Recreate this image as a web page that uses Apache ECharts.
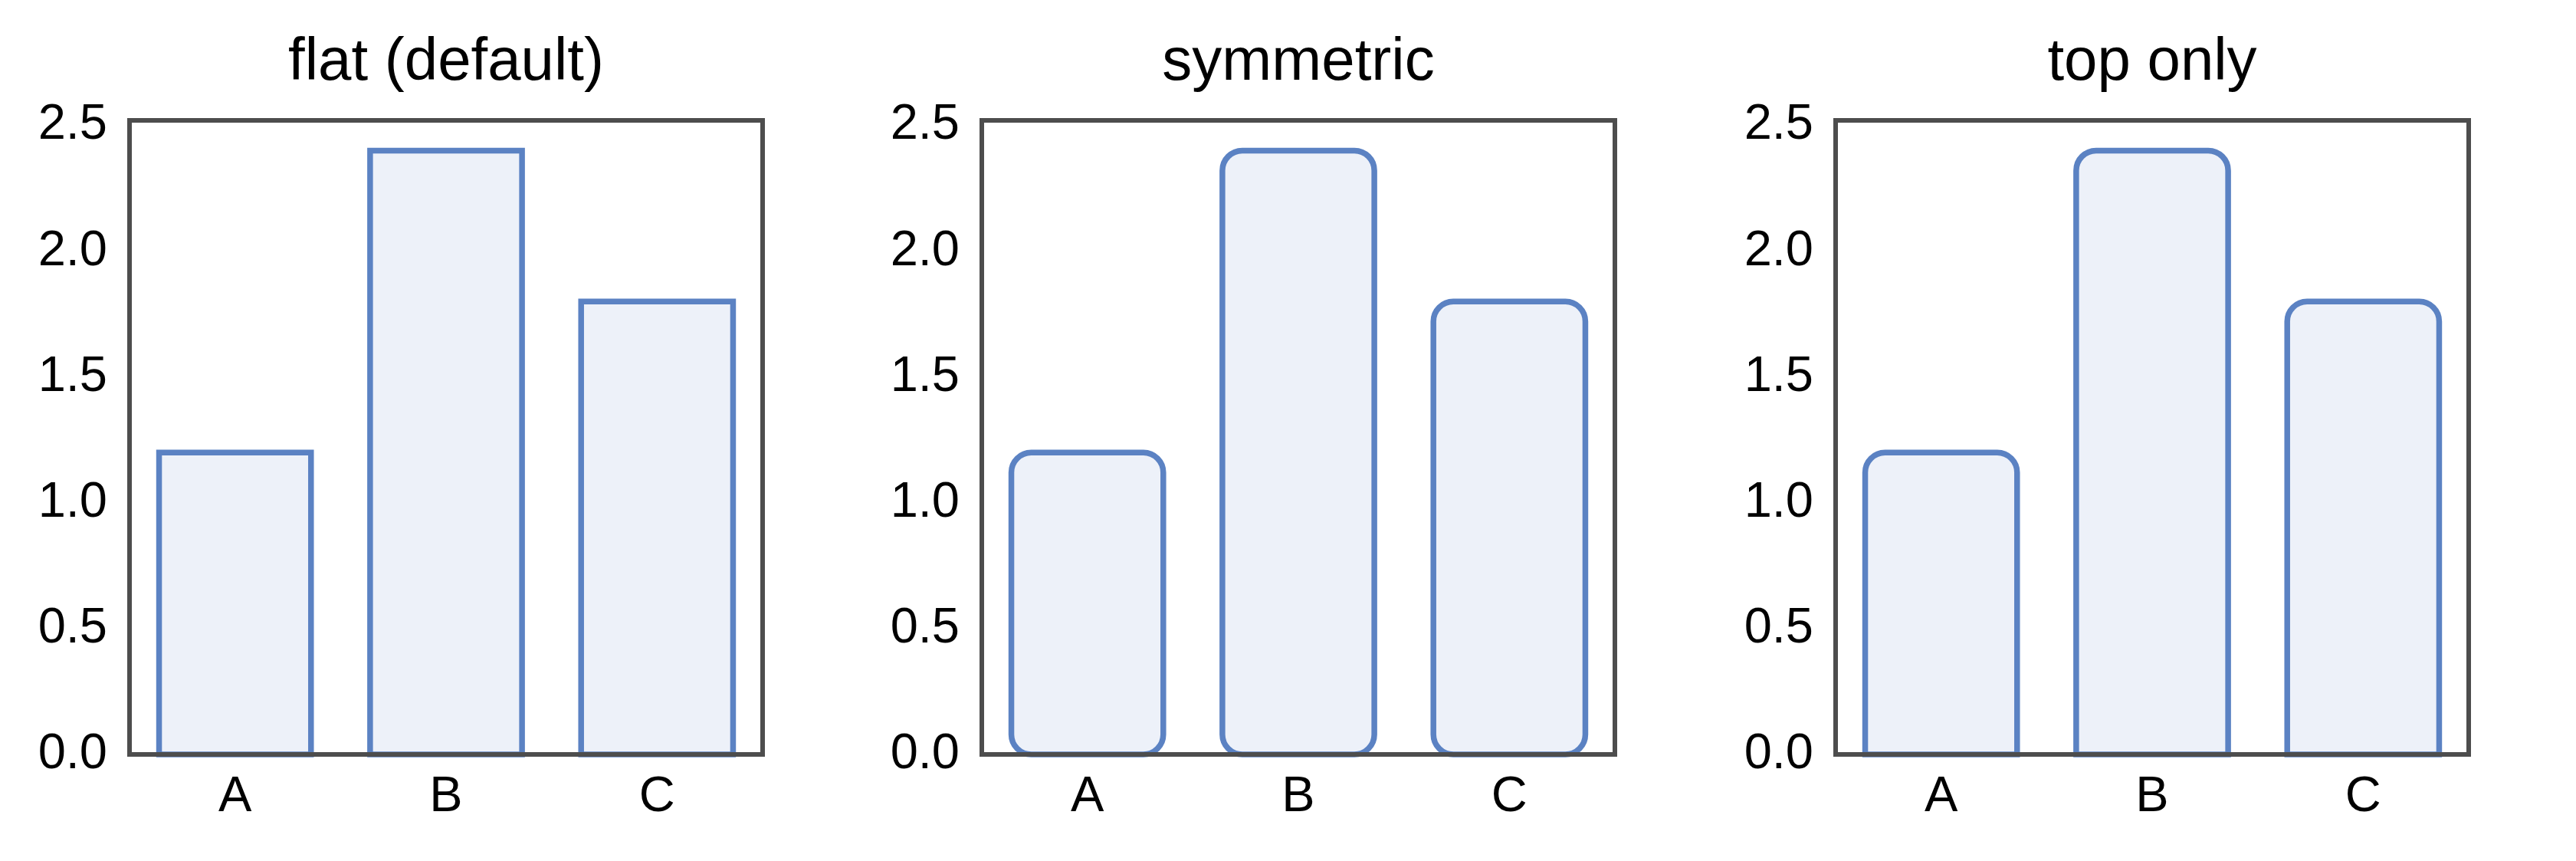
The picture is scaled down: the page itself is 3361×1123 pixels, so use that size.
<!DOCTYPE html>
<html>
<head>
<meta charset="utf-8">
<script src="https://cdn.jsdelivr.net/npm/echarts@6/dist/echarts.min.js"></script>
<style>
  html, body { margin: 0; padding: 0; background: #ffffff; }
  #chart { width: 3361px; height: 1123px; }
</style>
</head>
<body>
<div id="chart"></div>
<script>
// ---- data ----
const categories = ['A', 'B', 'C'];
const values = [1.2, 2.4, 1.8];
const panelTitles = ['flat (default)', 'symmetric', 'top only'];
const yTickLabels = ['0.0', '0.5', '1.0', '1.5', '2.0', '2.5'];
const yMax = 2.52;

// ---- styles / layout ----
const FONT = 'Arial, "Liberation Sans", Helvetica, sans-serif';
const panelLeft = [169, 1281, 2395];
const panelWidth = 826;
const panelTop = 157;
const panelHeight = 827;
const R = 26;
const radii = [0, [R, R, R, R], [R, R, 0, 0]];
const barFraction = 0.72;
const strokeColor = '#5b82c3';
const fillColor = '#edf1f9';
const spineColor = '#4d4d4d';

const chart = echarts.init(document.getElementById('chart'), null, { renderer: 'canvas' });

function makeRenderItem(radius) {
  return function (params, api) {
    const idx = api.value(0);
    const val = api.value(1);
    const base = api.coord([idx, 0]);
    const top = api.coord([idx, val]);
    const band = api.size([1, 0])[0];
    const w = band * barFraction;
    return {
      type: 'rect',
      shape: { x: base[0] - w / 2, y: top[1], width: w, height: base[1] - top[1], r: radius },
      style: { fill: fillColor, stroke: strokeColor, lineWidth: 7.5 }
    };
  };
}

const grids = [], xAxes = [], yAxes = [], series = [], titles = [];
panelTitles.forEach((t, i) => {
  grids.push({
    left: panelLeft[i], top: panelTop, width: panelWidth, height: panelHeight,
    show: true, borderColor: spineColor, borderWidth: 6,
    backgroundColor: 'transparent', z: 5
  });
  titles.push({
    text: t, left: panelLeft[i] + panelWidth / 2, top: 43, textAlign: 'center', padding: 0,
    textStyle: { fontFamily: FONT, fontSize: 78, fontWeight: 'normal', color: '#000000' }
  });
  xAxes.push({
    type: 'category', gridIndex: i, data: categories, boundaryGap: true,
    axisLine: { show: false }, axisTick: { show: false }, splitLine: { show: false },
    axisLabel: { fontFamily: FONT, fontSize: 65, color: '#000000', margin: 24 }
  });
  yAxes.push({
    type: 'value', gridIndex: i, min: 0, max: yMax, interval: 0.5,
    axisLine: { show: false }, axisTick: { show: false }, splitLine: { show: false },
    axisLabel: {
      fontFamily: FONT, fontSize: 65, color: '#000000', margin: 29,
      formatter: function (v) {
        const k = Math.round(v * 2);
        if (Math.abs(v * 2 - k) > 1e-6) return '';
        return yTickLabels[k] !== undefined ? yTickLabels[k] : '';
      }
    }
  });
  series.push({
    type: 'custom', xAxisIndex: i, yAxisIndex: i,
    data: values.map((v, j) => [j, v]),
    encode: { x: 0, y: 1 },
    renderItem: makeRenderItem(radii[i]),
    clip: false, silent: true, animation: false, z: 2
  });
});

chart.setOption({
  backgroundColor: '#ffffff',
  animation: false,
  title: titles,
  grid: grids,
  xAxis: xAxes,
  yAxis: yAxes,
  series: series
});
</script>
</body>
</html>
